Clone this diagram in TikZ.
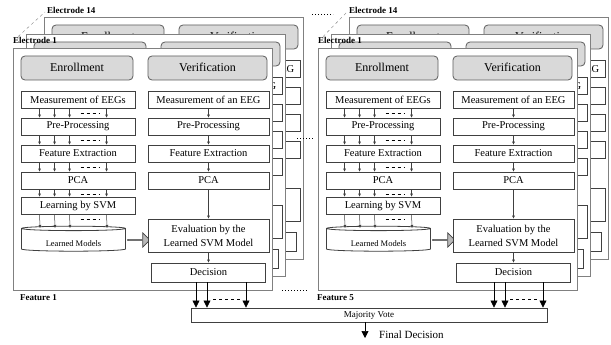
\documentclass[tikz,border=0pt]{standalone}
\usepackage{fontspec}
\setmainfont{Liberation Serif}
\usetikzlibrary{arrows.meta,calc,shapes.geometric,shapes.arrows}

\definecolor{boxline}{HTML}{404040}
\definecolor{frameline}{HTML}{808080}
\definecolor{headfill}{HTML}{D9D9D9}

% 0 = front panel (all texts), 1 = middle panel, 2 = back panel
\newif\iffulltext
\newif\ifheadtext
\newcommand\ptext[1]{\iffulltext#1\fi}
\newcommand\htext[1]{\ifheadtext\raisebox{1.5pt}{#1}\fi}

\tikzset{
  ebox/.style={draw=boxline, line width=0.9pt, fill=white, inner sep=0pt,
    font=\fontsize{10.5}{14}\selectfont},
  lbox/.style={ebox, minimum width=114pt, minimum height=17pt},
  rbox/.style={ebox, minimum width=121pt, minimum height=17pt},
  hdbox/.style={draw=boxline!85, fill=headfill, rounded corners=4pt, line width=0.8pt,
    minimum height=24pt, inner sep=0pt, font=\fontsize{12}{14}\selectfont},
  store/.style={cylinder, shape border rotate=90, aspect=0.08, draw=boxline,
    line width=0.8pt, fill=white, minimum width=104pt, minimum height=25pt,
    inner sep=0pt, font=\fontsize{8.5}{10}\selectfont},
  fatarrow/.style={single arrow, draw=boxline, line width=0.7pt, fill=gray!55,
    minimum height=22pt, minimum width=14pt, single arrow head extend=3.5pt, inner sep=0pt},
  tick/.style={-{Triangle[length=3pt,width=2.6pt]}, line width=0.5pt, draw=boxline},
  bigtip/.style={-{Triangle[length=7pt,width=7pt]}, line width=0.7pt, draw=black},
  tag/.style={font=\bfseries\fontsize{9}{10}\selectfont, inner sep=0pt},
  dotline/.style={line width=1pt, dash pattern=on 1pt off 2pt},
  panel/.pic={
    \ifnum#1=0 \global\fulltexttrue\else\global\fulltextfalse\fi
    \ifnum#1=1 \global\headtextfalse\else\global\headtexttrue\fi
    \draw[frameline, line width=0.9pt, fill=white] (13,48) rectangle (272,290);
    \node[hdbox, minimum width=112pt] (-enr) at (77,68) {\htext{Enrollment}};
    \node[hdbox, minimum width=119pt] (-ver) at (207.5,68) {\htext{Verification}};
    % enrollment column
    \node[lbox] (-meas) at (78,100) {\ptext{Measurement of EEGs}};
    \node[lbox] (-pre) at (78,126.5) {\ptext{Pre-Processing}};
    \node[lbox] (-fe) at (78,153.5) {\ptext{Feature Extraction}};
    \node[lbox] (-pca) at (78,180.5) {\ptext{PCA}};
    \node[lbox] (-svm) at (78,205.5) {\ptext{Learning by SVM}};
    \node[store] (-lm) at (73.5,240) {\ptext{\raisebox{-6pt}[0pt][0pt]{Learned Models}}};
    \coordinate (-lmtop) at (21,228);
    \node[fatarrow] (-fat) at (138.5,240) {};
    % verification column
    \node[rbox] (-vmeas) at (208.5,100) {\ptext{Measurement of an EEG}};
    \ifnum#1>0
      \node[inner sep=0pt, anchor=east, font=\fontsize{10.5}{14}\selectfont]
        (-veeg) at ([xshift=-6pt]-vmeas.east) {EEG};
    \fi
    \node[rbox] (-vpre) at (208.5,126.5) {\ptext{Pre-Processing}};
    \node[rbox] (-vfe) at (208.5,153.5) {\ptext{Feature Extraction}};
    \node[rbox] (-vpca) at (208.5,180.5) {\ptext{PCA}};
    \node[rbox, minimum height=33pt, align=center] (-eval) at (208.5,235.5)
      {\ptext{Evaluation by the\\Learned SVM Model}};
    \node[lbox, minimum height=19pt] (-dec) at (208.5,272.5) {\ptext{Decision}};
    \foreach \a/\b in {meas/pre, pre/fe, fe/pca, pca/svm} {
      \foreach \d in {19,34,49,86}
        \draw[tick] ([xshift=\d pt]-\a.south west) -- ([xshift=\d pt]-\b.north west);
      \draw[dashed, line width=0.5pt] ([xshift=60pt,yshift=-4.5pt]-\a.south west) -- ++(19,0);
    }
    \foreach \d in {19,34,49,86}
      \draw[tick] ([xshift=\d pt]-svm.south west) -- ([xshift=\d pt]-lmtop);
    \draw[dashed, line width=0.5pt] ([xshift=60pt,yshift=-5pt]-svm.south west) -- ++(19,0);
    \foreach \a/\b in {vmeas/vpre, vpre/vfe, vfe/vpca, vpca/eval, eval/dec}
      \draw[tick] (-\a) -- (-\b);
  }
}

\begin{document}
\begin{tikzpicture}[x=1pt, y=-1pt]
\useasboundingbox (0,0) rectangle (611,345);

% Feature 1
\pic (L14) at (31,-31) {panel=2};
\pic (L2) at (13,-14) {panel=1};
\pic (L1) at (0,0) {panel=0};
% Feature 5
\pic (R14) at (336,-31) {panel=2};
\pic (R2) at (318,-14) {panel=1};
\pic (R1) at (305,0) {panel=0};

\node[tag, anchor=west] (le14) at (47,10) {Electrode 14};
\node[tag, anchor=west] (le1) at (13,40) {Electrode 1};
\draw[dashed, line width=0.4pt, gray] ([xshift=5pt]le1.north west) -- ([xshift=-2pt,yshift=-2pt]le14.west);
\node[tag, anchor=west] (re14) at (349,10) {Electrode 14};
\node[tag, anchor=west] (re1) at (318,40) {Electrode 1};
\draw[dashed, line width=0.4pt, gray] ([xshift=5pt]re1.north west) -- ([xshift=-2pt,yshift=-2pt]re14.west);

\node[tag, anchor=west] (f1) at (20,298) {Feature 1};
\node[tag, anchor=west] (f5) at (317,298) {Feature 5};

% dots between the groups
\draw[dotline] (312,15) -- (333,15);
\draw[dotline] (297,138) -- (315,138);
\draw[dotline] (282,290) -- (307,290);

% majority vote
\node[ebox, minimum width=356pt, minimum height=14pt, font=\fontsize{9}{10}\selectfont] (mv) at (369,315) {Majority Vote};
\foreach \d in {-12.5,-1.5,37.5}
  \draw[bigtip] ($(L1-dec.south)+(\d,0)$) -- ($(L1-dec.south |- mv.north)+(\d,0)$);
\draw[dashed, line width=0.5pt] ($(L1-dec.south)+(4.5,16.5)$) -- ++(27,0);
\foreach \d in {-19.5,-8.5,29.5}
  \draw[bigtip] ($(R1-dec.south)+(\d,0)$) -- ($(R1-dec.south |- mv.north)+(\d,0)$);
\draw[dashed, line width=0.5pt] ($(R1-dec.south)+(-3.5,16.5)$) -- ++(27,0);

\coordinate (fd) at (365,338);
\draw[bigtip] (fd |- mv.south) -- (fd);
\node[anchor=west, inner sep=0pt, font=\fontsize{11}{12}\selectfont] (fdt) at (379,335) {Final Decision};
\end{tikzpicture}
\end{document}
